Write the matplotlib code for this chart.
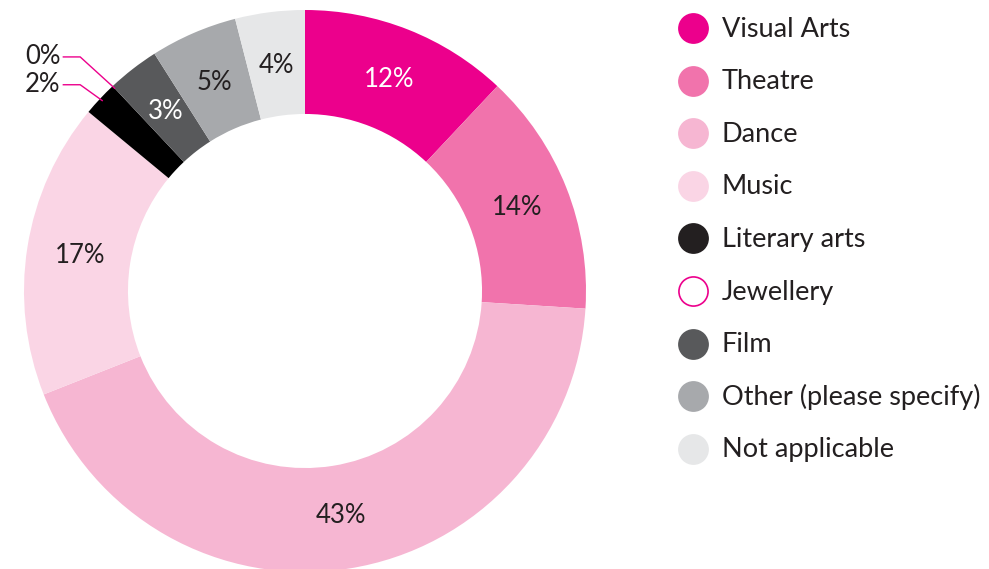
import matplotlib
matplotlib.use("Agg")
import numpy as np
import matplotlib.pyplot as plt

# data
labels = ["Visual Arts", "Theatre", "Dance", "Music", "Literary arts",
          "Jewellery", "Film", "Other (please specify)", "Not applicable"]
values = [12, 14, 43, 17, 2, 0, 3, 5, 4]
colors = ["#EC008C", "#F173AC", "#F6B6D2", "#FAD5E5", "#000000",
          "#FFFFFF", "#58595B", "#A7A9AC", "#E6E7E8"]
legend_colors = ["#EC008C", "#F173AC", "#F6B6D2", "#FAD5E5", "#231F20",
                 "#FFFFFF", "#58595B", "#A7A9AC", "#E6E7E8"]
text_colors = ["white", "#231F20", "#231F20", "#231F20", "#231F20",
               "#231F20", "white", "#231F20", "#231F20"]

plt.rcParams["font.family"] = ["Lato", "DejaVu Sans"]
dark = "#231F20"
magenta = "#EC008C"

W, H = 989, 569
fig = plt.figure(figsize=(W / 100, H / 100), dpi=100)

# donut axes: centre (305, 291) px, radius 281 px
cx, cy, R = 305, 291, 281
ax = fig.add_axes([(cx - R) / W, (H - cy - R) / H, 2 * R / W, 2 * R / H])
ax.pie(values, colors=colors, startangle=90, counterclock=False,
       radius=1, wedgeprops=dict(width=0.37, linewidth=0))
ax.set_xlim(-1, 1)
ax.set_ylim(-1, 1)
ax.set_aspect("equal")
ax.axis("off")

# percentage labels
total = sum(values)
cum = 0
for v, tc in zip(values, text_colors):
    mid = (cum + v / 2) / total * 2 * np.pi
    cum += v
    if v < 3:
        continue
    r = 0.81
    ax.text(r * np.sin(mid), r * np.cos(mid), f"{v}%", ha="center",
            va="center", fontsize=18.5, color=tc)

# leader lines for the small slices (Literary arts, Jewellery)
lead = {4: (0.734, "2%"), 5: (0.833, "0%")}
cum = 0
for i, v in enumerate(values):
    mid = (cum + v / 2) / total * 2 * np.pi
    cum += v
    if i in lead:
        ty, txt = lead[i]
        px, py = 0.99 * np.sin(mid), 0.99 * np.cos(mid)
        ex = -0.80
        ax.plot([px, ex, -0.86], [py, ty, ty], color=magenta, lw=1,
                clip_on=False)
        ax.text(-0.87, ty, txt, ha="right", va="center", fontsize=18.5,
                color=dark)

# legend
lax = fig.add_axes([0, 0, 1, 1])
lax.set_xlim(0, W)
lax.set_ylim(H, 0)
lax.axis("off")
for i, (lab, c) in enumerate(zip(labels, legend_colors)):
    y = 28 + i * 52.6
    ec = magenta if lab == "Jewellery" else c
    lax.scatter([693], [y], s=440, color=c, edgecolors=ec, linewidths=1.2)
    lax.text(722, y + 1, lab, ha="left", va="center", fontsize=19.5,
             color=dark)

fig.savefig("out.png", dpi=100)
